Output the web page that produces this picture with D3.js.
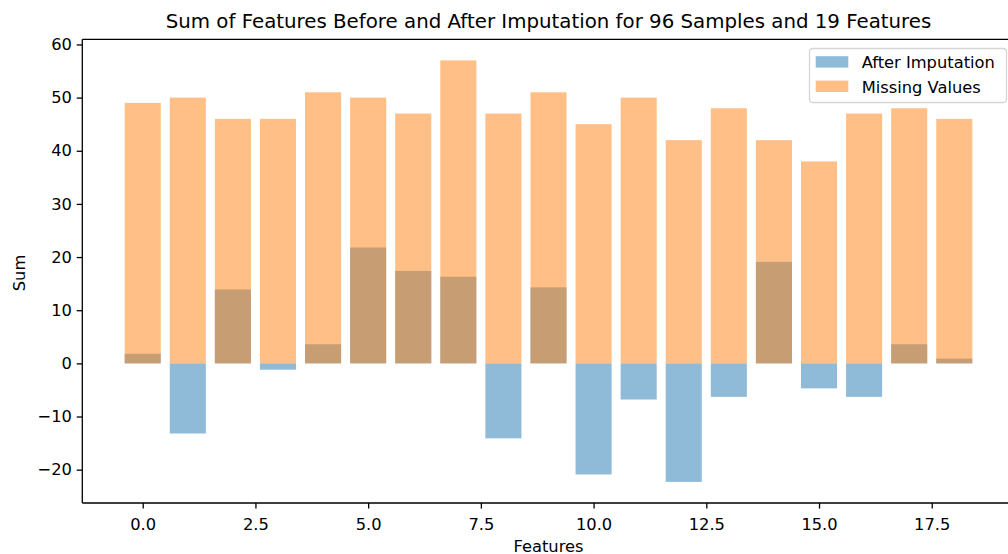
<!DOCTYPE html>
<html>
<head>
<meta charset="utf-8">
<script src="https://cdn.jsdelivr.net/npm/d3@7"></script>
<style>
  html, body { margin: 0; padding: 0; background: #fff; overflow: hidden; }
  text { font-family: "DejaVu Sans", sans-serif; }
</style>
</head>
<body>
<svg id="chart" width="1008" height="554"></svg>
<script>
// ---- data ----
const features = d3.range(19);
const afterImputation = [1.8, -13.2, 13.9, -1.2, 3.6, 21.8, 17.4, 16.3, -14.1, 14.3, -20.9, -6.8, -22.3, -6.3, 19.1, -4.7, -6.3, 3.6, 0.9];
const missingValues = [49, 50, 46, 46, 51, 50, 47, 57, 47, 51, 45, 50, 42, 48, 42, 38, 47, 48, 46];
const xTicks = [0, 2.5, 5, 7.5, 10, 12.5, 15, 17.5];
const yTicks = [-20, -10, 0, 10, 20, 30, 40, 50, 60];
const seriesNames = ["After Imputation", "Missing Values"];
const titleText = "Sum of Features Before and After Imputation for 96 Samples and 19 Features";

// ---- layout ----
const mLeft = 82.3, mTop = 39.3, mRight = 1014.7, mBottom = 503;
const barW = 0.8;
const svg = d3.select("#chart");

const x = d3.scaleLinear().domain([-1.34, 19.34]).range([mLeft, mRight]);
const y = d3.scaleLinear().domain([-26.27, 60.97]).range([mBottom, mTop]);

const blue = "#1f77b4", orange = "#ff7f0e";

// bars: after imputation
svg.append("g").selectAll("rect").data(features).join("rect")
  .attr("x", i => x(i - barW / 2))
  .attr("width", x(barW) - x(0))
  .attr("y", i => y(Math.max(0, afterImputation[i])))
  .attr("height", i => Math.abs(y(afterImputation[i]) - y(0)))
  .attr("fill", blue).attr("fill-opacity", 0.5);

// bars: missing values
svg.append("g").selectAll("rect").data(features).join("rect")
  .attr("x", i => x(i - barW / 2))
  .attr("width", x(barW) - x(0))
  .attr("y", i => y(Math.max(0, missingValues[i])))
  .attr("height", i => Math.abs(y(missingValues[i]) - y(0)))
  .attr("fill", orange).attr("fill-opacity", 0.5);

// axes
const fs = 16.3;
const xAxis = svg.append("g").attr("transform", `translate(0,${mBottom})`)
  .call(d3.axisBottom(x).tickValues(xTicks).tickFormat(d3.format(".1f")).tickSize(5.6).tickPadding(5.5));
const yAxis = svg.append("g").attr("transform", `translate(${mLeft},0)`)
  .call(d3.axisLeft(y).tickValues(yTicks).tickFormat(d3.format("d")).tickSize(5.6).tickPadding(4.8));
[xAxis, yAxis].forEach(g => {
  g.selectAll("path.domain").remove();
  g.selectAll("line").attr("stroke", "#000").attr("stroke-width", 1.3);
  g.selectAll("text").attr("font-size", fs).attr("fill", "#000").attr("font-family", "DejaVu Sans");
});
xAxis.selectAll("text").attr("y", 27).attr("dy", 0);

// spines
const spine = svg.append("g").attr("stroke", "#000").attr("stroke-width", 1.3).attr("fill", "none");
spine.append("line").attr("x1", mLeft).attr("x2", mLeft).attr("y1", mTop).attr("y2", mBottom);
spine.append("line").attr("x1", mLeft).attr("x2", mRight).attr("y1", mBottom).attr("y2", mBottom);
spine.append("line").attr("x1", mLeft).attr("x2", mRight).attr("y1", mTop).attr("y2", mTop);
spine.append("line").attr("x1", mRight).attr("x2", mRight).attr("y1", mTop).attr("y2", mBottom);

// title and labels
svg.append("text").attr("x", (mLeft + mRight) / 2).attr("y", 28)
  .attr("text-anchor", "middle").attr("font-size", 19.8).attr("fill", "#000").text(titleText);
svg.append("text").attr("x", (mLeft + mRight) / 2).attr("y", 551.5)
  .attr("text-anchor", "middle").attr("font-size", fs).attr("fill", "#000").text("Features");
svg.append("text").attr("transform", `translate(24.5,273) rotate(-90)`)
  .attr("text-anchor", "middle").attr("font-size", fs).attr("fill", "#000").text("Sum");

// legend
const lg = svg.append("g");
lg.append("rect").attr("x", 809.5).attr("y", 48.5).attr("width", 197).attr("height", 54)
  .attr("rx", 3.3).attr("fill", "#fff").attr("fill-opacity", 0.8)
  .attr("stroke", "#d6d6d6").attr("stroke-width", 1.3);
[blue, orange].forEach((c, k) => {
  const base = 68.3 + k * 24.4;
  lg.append("rect").attr("x", 815.7).attr("y", base - 12.1).attr("width", 32.6).attr("height", 11.4)
    .attr("fill", c).attr("fill-opacity", 0.5);
  lg.append("text").attr("x", 861.7).attr("y", base).attr("font-size", fs).attr("fill", "#000")
    .text(seriesNames[k]);
});
</script>
</body>
</html>
